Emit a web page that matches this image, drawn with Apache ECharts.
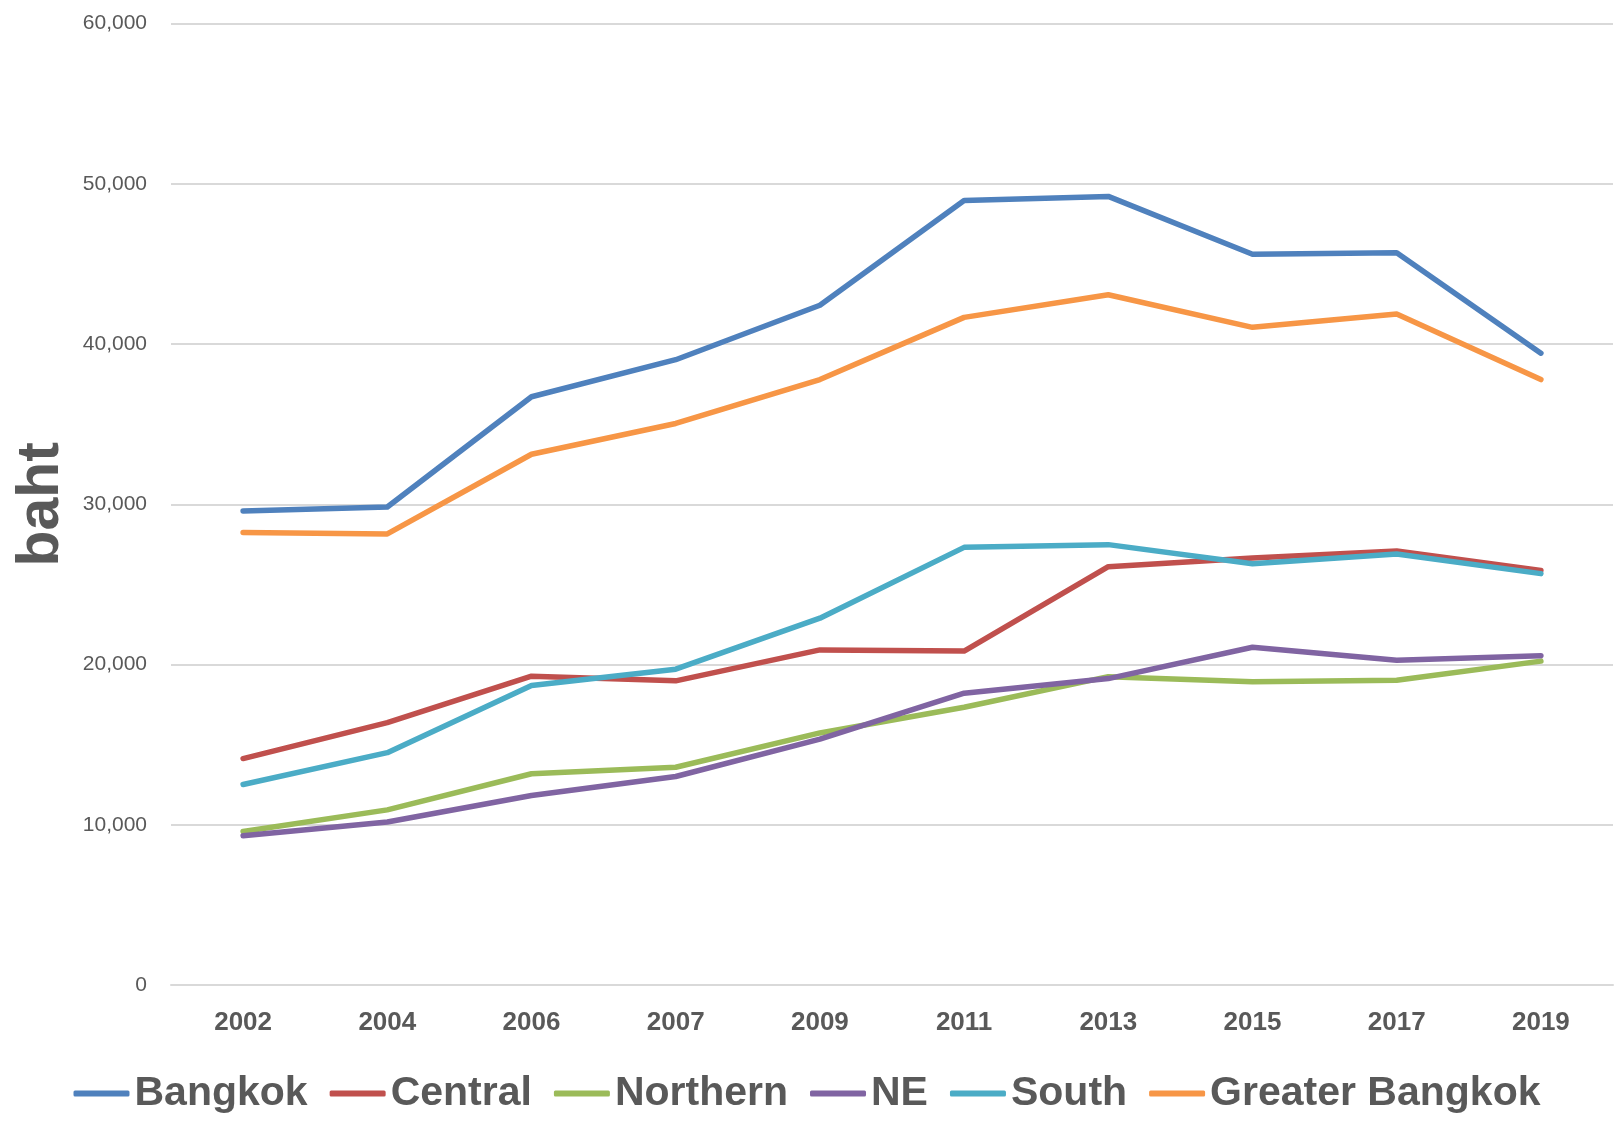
<!DOCTYPE html>
<html>
<head>
<meta charset="utf-8">
<script src="https://cdn.jsdelivr.net/npm/echarts@6/dist/echarts.min.js"></script>
<style>
html,body{margin:0;padding:0;background:#fff;}
#chart{width:1614px;height:1124px;}
</style>
</head>
<body>
<div id="chart"></div>
<script>
const years = ['2002','2004','2006','2007','2009','2011','2013','2015','2017','2019'];
const bangkok = [29580, 29830, 36710, 39020, 42420, 48950, 49210, 45600, 45700, 39430];
const central = [14130, 16370, 19270, 18980, 20910, 20840, 26100, 26650, 27080, 25860];
const northern = [9580, 10930, 13180, 13590, 15730, 17330, 19240, 18920, 19020, 20210];
const ne = [9310, 10170, 11830, 13010, 15340, 18210, 19120, 21080, 20270, 20550];
const south = [12510, 14500, 18690, 19710, 22890, 27310, 27480, 26290, 26890, 25670];
const greaterBangkok = [28230, 28150, 33120, 35040, 37780, 41660, 43070, 41040, 41870, 37780];
const seriesNames = ['Bangkok','Central','Northern','NE','South','Greater Bangkok'];
const seriesData = [bangkok, central, northern, ne, south, greaterBangkok];
const colors = ['#4F81BD','#C0504D','#9BBB59','#8064A2','#4BACC6','#F79646'];

const chart = echarts.init(document.getElementById('chart'));
chart.setOption({
  animation: false,
  color: colors,
  grid: {left: 171, right: 1, top: 23.5, bottom: 139, containLabel: false},
  legend: {
    top: 1068, left: 'center', width: 1600,
    icon: 'roundRect',
    itemWidth: 56, itemHeight: 6, itemGap: 22,
    textStyle: {fontFamily: 'Liberation Sans', fontWeight: 'bold', fontSize: 41, color: '#595959'},
    data: seriesNames
  },
  xAxis: {
    type: 'category', data: years, boundaryGap: true,
    axisLine: {show: true, lineStyle: {color: '#d9d9d9', width: 2}},
    axisTick: {show: false},
    axisLabel: {margin: 25, fontFamily: 'Liberation Sans', fontWeight: 'bold', fontSize: 26, color: '#595959'}
  },
  yAxis: {
    type: 'value', min: 0, max: 60000, interval: 10000,
    name: 'baht', nameLocation: 'middle', nameRotate: 90, nameGap: 100,
    nameTextStyle: {fontFamily: 'Liberation Sans', fontWeight: 'bold', fontSize: 59, color: '#595959'},
    axisLine: {show: false}, axisTick: {show: false},
    axisLabel: {margin: 24, fontFamily: 'Liberation Sans', fontSize: 21, color: '#595959',
      formatter: v => v.toLocaleString('en-US')},
    splitLine: {lineStyle: {color: '#d9d9d9', width: 2}}
  },
  series: seriesNames.map((n,i)=>({
    name: n, type: 'line', data: seriesData[i], symbol: 'none',
    lineStyle: {width: 5.5, color: colors[i], cap: 'round', join: 'round'},
    itemStyle: {color: colors[i]}
  }))
});
</script>
</body>
</html>
